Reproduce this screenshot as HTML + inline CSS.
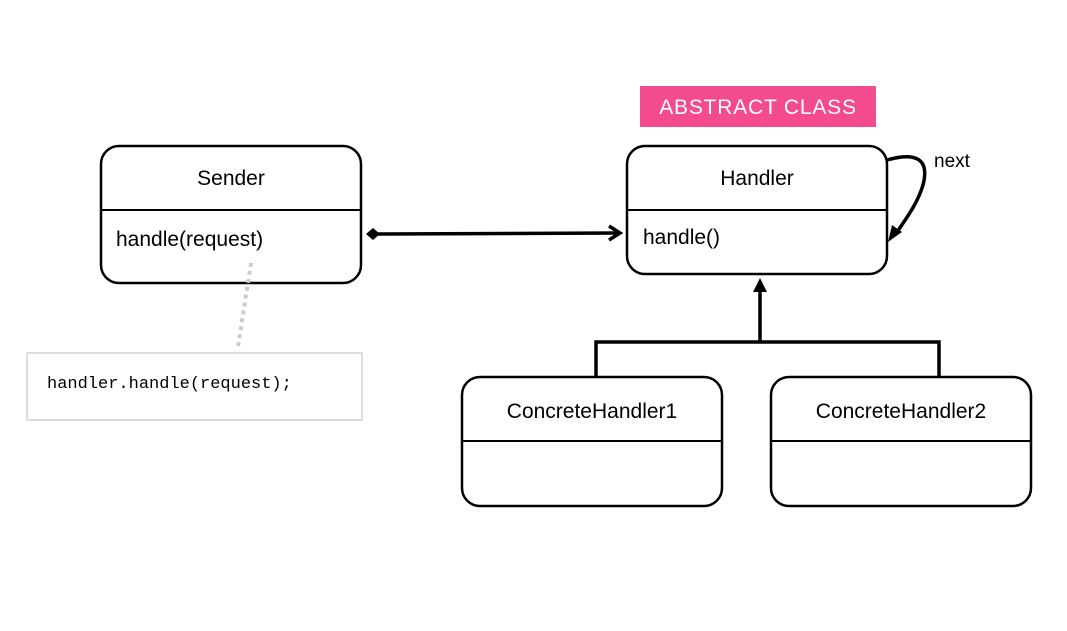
<!DOCTYPE html>
<html><head><style>
body{margin:0;background:#fff;width:1067px;height:626px;overflow:hidden}
svg text{font-family:"Liberation Sans",sans-serif}
</style></head><body>
<svg width="1067" height="626" viewBox="0 0 1067 626">
<rect x="640" y="86" width="236" height="41" fill="#f44b8f"/>
<text x="758" y="114" text-anchor="middle" fill="#fff" font-size="21" letter-spacing="0.8">ABSTRACT CLASS</text>
<g fill="#fff" stroke="#000" stroke-width="2.5">
<rect x="101" y="146" width="260" height="137" rx="18"/>
<rect x="627" y="146" width="260" height="128" rx="18"/>
<rect x="462" y="377" width="260" height="129" rx="18"/>
<rect x="771" y="377" width="260" height="129" rx="18"/>
</g>
<g stroke="#000" stroke-width="2">
<line x1="101" y1="210" x2="361" y2="210"/>
<line x1="627" y1="210" x2="887" y2="210"/>
<line x1="462" y1="441" x2="722" y2="441"/>
<line x1="771" y1="441" x2="1031" y2="441"/>
</g>
<g font-size="21" fill="#000">
<text x="231" y="185" text-anchor="middle">Sender</text>
<text x="116" y="246">handle(request)</text>
<text x="757" y="185" text-anchor="middle">Handler</text>
<text x="643" y="244">handle()</text>
<text x="592" y="418" text-anchor="middle">ConcreteHandler1</text>
<text x="901" y="418" text-anchor="middle">ConcreteHandler2</text>
<text x="934" y="167" font-size="19">next</text>
</g>
<rect x="27" y="353" width="335" height="67" fill="#fff" stroke="#ddd" stroke-width="2"/>
<text x="47" y="388" font-size="17" style="font-family:'Liberation Mono',monospace">handler.handle(request);</text>
<line x1="251" y1="263" x2="238" y2="347" stroke="#ccc" stroke-width="4" stroke-dasharray="4,4"/>
<g stroke="#000" stroke-width="3.5" fill="none">
<line x1="378" y1="234" x2="619" y2="233"/>
<polyline points="609,226 620,233 609,240"/>
<line x1="760" y1="342" x2="760" y2="290"/>
<polyline points="596,378 596,342 939,342 939,378"/>
<path d="M887,160 C915,152 930,158 923,185 C917,205 905,220 895,235"/>
</g>
<polygon points="366,234 373,228 380,234 373,240" fill="#000"/>
<polygon points="760,278 753,292 767,292" fill="#000"/>
<polygon points="888,242 892,225 902,232" fill="#000"/>
</svg>
</body></html>
